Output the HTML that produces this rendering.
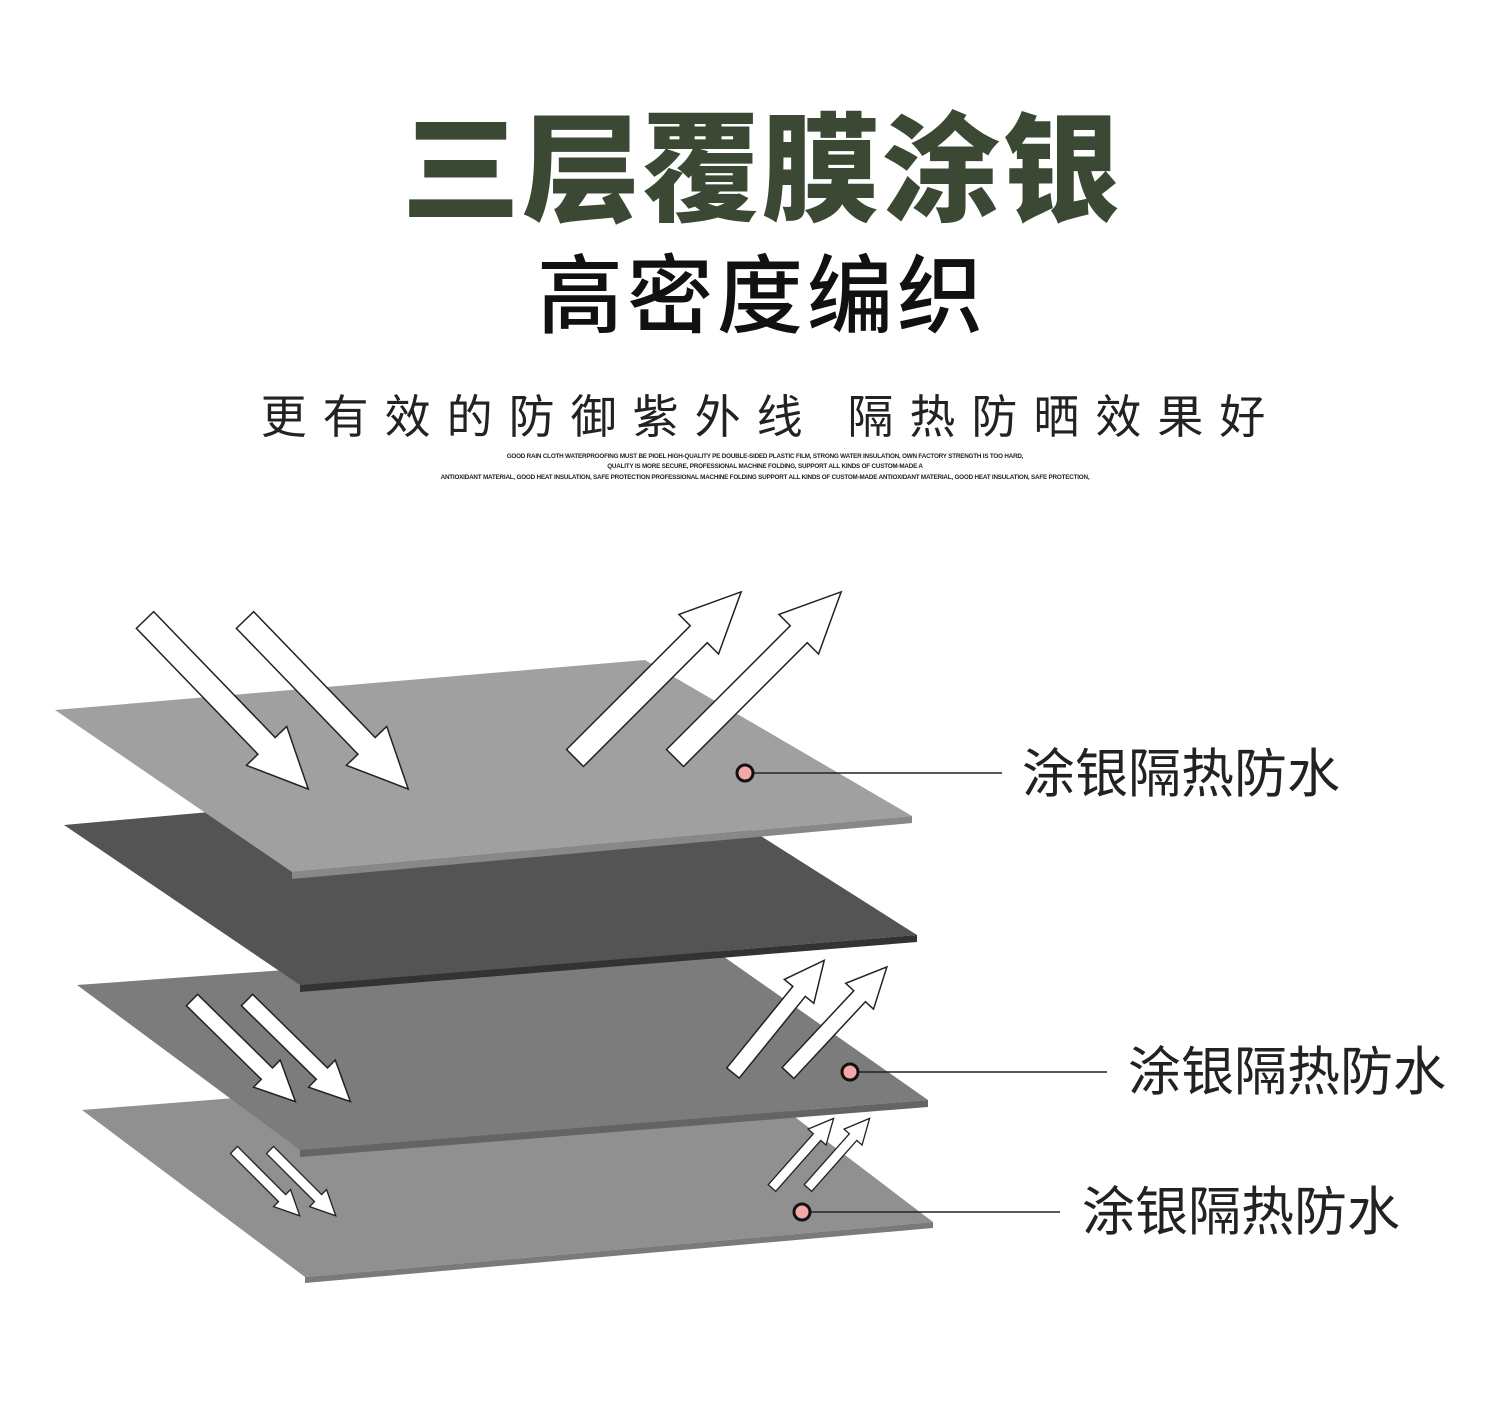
<!DOCTYPE html>
<html><head><meta charset="utf-8"><style>
body{margin:0;background:#fff;width:1500px;height:1415px;overflow:hidden;position:relative;font-family:"Liberation Sans","Noto Sans CJK SC",sans-serif}
.t{position:absolute;white-space:nowrap;left:0;width:1500px;text-align:center}
.lab{position:absolute;font-size:53px;color:#222;white-space:nowrap;line-height:1}
.tiny{position:absolute;left:0;width:1530px;text-align:center;font-size:6.3px;font-weight:bold;color:#222;letter-spacing:-0.2px}
</style></head><body>
<div class="t" style="top:108px;font-size:118px;font-weight:900;color:#3b4934;letter-spacing:2px;line-height:1.1;left:12px">三层覆膜涂银</div>
<div class="t" style="top:250px;font-size:86px;font-weight:500;color:#111;line-height:1.1;left:12px;letter-spacing:4px">高密度编织</div>
<div class="t" style="top:392px;font-size:46px;color:#222;letter-spacing:16px;line-height:1.1;left:21px">更有效的防御紫外线 隔热防晒效果好</div>
<div class="tiny" style="top:453px">GOOD RAIN CLOTH WATERPROOFING MUST BE PIOEL HIGH-QUALITY PE DOUBLE-SIDED PLASTIC FILM, STRONG WATER INSULATION, OWN FACTORY STRENGTH IS TOO HARD,</div>
<div class="tiny" style="top:463px">QUALITY IS MORE SECURE, PROFESSIONAL MACHINE FOLDING, SUPPORT ALL KINDS OF CUSTOM-MADE A</div>
<div class="tiny" style="top:474px">ANTIOXIDANT MATERIAL, GOOD HEAT INSULATION, SAFE PROTECTION PROFESSIONAL MACHINE FOLDING SUPPORT ALL KINDS OF CUSTOM-MADE ANTIOXIDANT MATERIAL, GOOD HEAT INSULATION, SAFE PROTECTION,</div>
<svg width="1500" height="1415" style="position:absolute;left:0;top:0">
<defs>
<g id="a"><polygon points="0,-12 175,-12 175,-28 235,0 175,28 175,12 0,12" fill="#fff" stroke="#222" stroke-width="1.5"/></g>
<g id="b"><polygon points="0,-8 105,-8 105,-19 145,0 105,19 105,8 0,8" fill="#fff" stroke="#222" stroke-width="1.5"/></g>
<g id="c"><polygon points="0,-5 68,-5 68,-12 93,0 68,12 68,5 0,5" fill="#fff" stroke="#222" stroke-width="1.3"/></g>
</defs>
<polygon points="82,1110 720,1060 933,1222 305,1277" fill="#909090"/>
<polygon points="305,1277 933,1222 933,1228 305,1283" fill="#7a7a7a"/>
<polygon points="77,985 700,940 928,1100 300,1150" fill="#7c7c7c"/>
<polygon points="300,1150 928,1100 928,1107 300,1157" fill="#646464"/>
<polygon points="64,825 660,772 917,935 300,985" fill="#545454"/>
<polygon points="300,985 917,935 917,942 300,992" fill="#333"/>
<polygon points="55,710 645,660 912,816 292,872" fill="#a0a0a0"/>
<polygon points="292,872 912,816 912,823 292,879" fill="#888"/>
<use href="#a" transform="translate(145,620) rotate(46)"/>
<use href="#a" transform="translate(245,620) rotate(46)"/>
<use href="#a" transform="translate(575,758) rotate(-45)"/>
<use href="#a" transform="translate(675,758) rotate(-45)"/>
<use href="#b" transform="translate(192,1000) rotate(44.5)"/>
<use href="#b" transform="translate(247,1000) rotate(44.5)"/>
<use href="#b" transform="translate(733,1073) rotate(-51)"/>
<use href="#b" transform="translate(788,1073) rotate(-47)"/>
<use href="#c" transform="translate(234,1150) rotate(45)"/>
<use href="#c" transform="translate(270,1150) rotate(45)"/>
<use href="#c" transform="translate(772,1188) rotate(-48.5)"/>
<use href="#c" transform="translate(808,1188) rotate(-48.5)"/>
<line x1="745" y1="773" x2="1002" y2="773" stroke="#222" stroke-width="1.5"/>
<circle cx="745" cy="773" r="8" fill="#f4a8a8" stroke="#111" stroke-width="3"/>
<line x1="850" y1="1072" x2="1107" y2="1072" stroke="#222" stroke-width="1.5"/>
<circle cx="850" cy="1072" r="8" fill="#f4a8a8" stroke="#111" stroke-width="3"/>
<line x1="802" y1="1212" x2="1060" y2="1212" stroke="#222" stroke-width="1.5"/>
<circle cx="802" cy="1212" r="8" fill="#f4a8a8" stroke="#111" stroke-width="3"/>
</svg>
<div class="lab" style="left:1022px;top:748px">涂银隔热防水</div>
<div class="lab" style="left:1128px;top:1046px">涂银隔热防水</div>
<div class="lab" style="left:1082px;top:1186px">涂银隔热防水</div>
</body></html>
